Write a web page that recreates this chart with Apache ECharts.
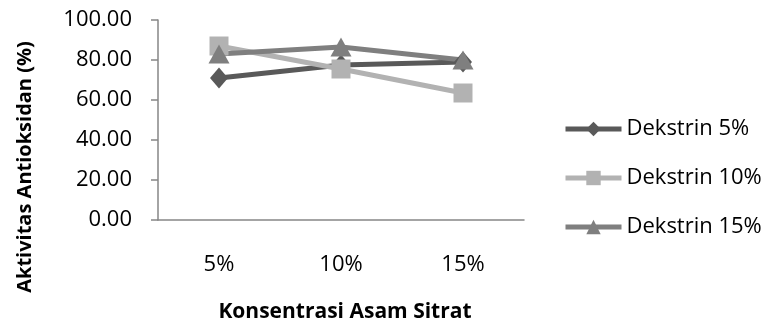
<!DOCTYPE html>
<html>
<head>
<meta charset="utf-8">
<script src="https://cdn.jsdelivr.net/npm/echarts@6/dist/echarts.min.js"></script>
<style>
  html, body { margin: 0; padding: 0; background: #fff; }
  #chart { width: 769px; height: 327px; }
</style>
</head>
<body>
<div id="chart"></div>
<script>
// Citric acid concentration (x categories)
const categories = ['5%', '10%', '15%'];
// Antioxidant activity (%) per dextrin level
const dekstrin5 = [71.0, 77.5, 79.0];
const dekstrin10 = [87.0, 75.5, 63.5];
const dekstrin15 = [83.0, 86.5, 80.0];
const seriesNames = ['Dekstrin 5%', 'Dekstrin 10%', 'Dekstrin 15%'];
const yTicks = { min: 0, max: 100, step: 20 };
const xTitle = 'Konsentrasi Asam Sitrat';
const yTitle = 'Aktivitas Antioksidan (%)';

const FONT = '"Open Sans", "Noto Sans", sans-serif';

const chart = echarts.init(document.getElementById('chart'), null, { renderer: 'canvas' });

function lineSeries(name, data, color, symbol, size) {
  return {
    name: name,
    type: 'line',
    data: data,
    symbol: symbol,
    symbolSize: size,
    lineStyle: { color: color, width: 5 },
    itemStyle: { color: color },
    emphasis: { disabled: true },
    animation: false
  };
}

chart.setOption({
  animation: false,
  grid: { left: 158, right: 245, top: 20, bottom: 107, outerBoundsMode: 'none', containLabel: false },
  legend: {
    orient: 'vertical',
    left: 563,
    top: 118,
    padding: 0,
    itemWidth: 56,
    itemHeight: 18,
    itemGap: 27,
    lineStyle: { width: 5 },
    textStyle: { fontFamily: FONT, fontSize: 22, lineHeight: 18, color: '#000', padding: [0, 0, 0, 0] },
    data: seriesNames
  },
  graphic: [
    {
      type: 'text',
      x: 25, y: 167, rotation: Math.PI / 2,
      style: {
        text: yTitle, fontFamily: FONT, fontSize: 20, fontWeight: 'bold', fill: '#000',
        align: 'center', verticalAlign: 'middle'
      }
    },
    {
      type: 'text',
      x: 345, y: 312,
      style: {
        text: xTitle, fontFamily: FONT, fontSize: 21, fontWeight: 'bold', fill: '#000',
        align: 'center', verticalAlign: 'middle'
      }
    }
  ],
  xAxis: {
    type: 'category',
    data: categories,
    boundaryGap: true,
    axisLine: { lineStyle: { color: '#868686', width: 1.5 } },
    axisTick: { show: false },
    axisLabel: { fontFamily: FONT, fontSize: 22, color: '#000', margin: 34 }
  },
  yAxis: {
    type: 'value',
    min: yTicks.min,
    max: yTicks.max,
    interval: yTicks.step,
    splitLine: { show: false },
    axisLine: { show: true, lineStyle: { color: '#868686', width: 1.5 } },
    axisTick: { show: true, length: 7, lineStyle: { color: '#868686', width: 1.5 } },
    axisLabel: {
      fontFamily: FONT, fontSize: 22, color: '#000', margin: 26,
      formatter: v => v.toFixed(2)
    }
  },
  series: [
    lineSeries(seriesNames[0], dekstrin5, '#595959', 'diamond', [18, 21]),
    lineSeries(seriesNames[1], dekstrin10, '#b2b2b2', 'rect', 19),
    lineSeries(seriesNames[2], dekstrin15, '#7f7f7f', 'triangle', [21, 19])
  ]
});
</script>
</body>
</html>
